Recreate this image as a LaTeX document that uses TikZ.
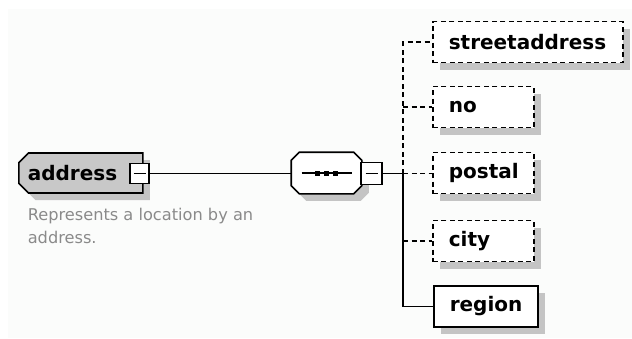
\documentclass[tikz,border=0pt]{standalone}
\usepackage{fontspec}
\setmainfont{DejaVu Sans}
\usetikzlibrary{shapes.misc,shadows}
\definecolor{bgtint}{HTML}{FBFCFB}
\definecolor{shadegray}{HTML}{C4C4C4}
\definecolor{bodygray}{HTML}{C8C8C8}
\definecolor{descgray}{HTML}{8A8A8A}

\begin{document}
\begin{tikzpicture}[x=1pt,y=-1pt,line width=1.6pt,
    elemfont/.style={font=\fontsize{20}{24}\selectfont\bfseries},
    boxshadow/.style={drop shadow={shadow xshift=7pt,shadow yshift=-7pt,fill=shadegray,opacity=1}},
    elembox/.style={draw,fill=white,elemfont,boxshadow,anchor=west,minimum height=41pt,inner xsep=16pt,inner ysep=0pt,align=left},
    optbox/.style={elembox,dash pattern=on 5pt off 3.5pt},
    dashedline/.style={dash pattern=on 5pt off 3.5pt},
    minusbox/.style={draw,fill=white,minimum width=19pt,minimum height=20pt,inner sep=0pt}]
    \useasboundingbox (0,0) rectangle (632,338);
    \fill[bgtint] (8,9) rectangle (632,338);

    \node[chamfered rectangle,chamfered rectangle corners={north west,south west},chamfered rectangle xsep=6pt,
          draw,fill=bodygray,boxshadow,elemfont,anchor=west,text width=106pt,inner xsep=3pt,inner ysep=0pt,minimum height=40pt]
          (address) at (18,173) {address};
    \node[minusbox] (addrminus) at (139.5,173.5) {};
    \draw[line width=1.2pt] ([xshift=-6pt]addrminus.center) -- ([xshift=6pt]addrminus.center);
    \node[anchor=north west,inner sep=0pt,align=left,text=descgray,font=\fontsize{16.2}{23}\selectfont]
          (addrdoc) at (27,207) {Represents a location by an\\address.};

    \node[minimum width=69pt,minimum height=40pt,inner sep=0pt] (seq) at (326.5,173) {};
    \filldraw[fill=white,boxshadow] ([xshift=8pt]seq.north west) -- ([xshift=-8pt]seq.north east)
        -- ([yshift=-8pt]seq.north east) -- ([yshift=8pt]seq.south east) -- ([xshift=-8pt]seq.south east)
        -- ([xshift=8pt]seq.south west) -- ([yshift=8pt]seq.south west) -- ([yshift=-8pt]seq.north west) -- cycle;
    \draw[line width=1.2pt] ([xshift=-25pt]seq.center) -- ([xshift=25pt]seq.center);
    \foreach \dx in {-9,0,9}
        \fill ([xshift=\dx pt]seq.center) ++(-2.5,-2.5) rectangle ++(5,5);
    \node[minusbox,minimum width=21pt,minimum height=22pt] (seqminus) at (371.5,173.5) {};
    \draw[line width=1.2pt] ([xshift=-6pt]seqminus.center) -- ([xshift=6pt]seqminus.center);

    \draw (addrminus.east) -- (seq.west |- addrminus.east);

    \node[optbox,text width=158pt] (street) at (432,42) {streetaddress};
    \node[optbox,text width=69pt] (no) at (432,107) {no};
    \node[optbox,text width=69pt] (postal) at (432,173) {postal};
    \node[optbox,text width=69pt] (city) at (432,241) {city};
    \node[elembox,text width=72pt] (region) at (433,306.5) {region};

    \coordinate (fork) at (403,173.5);
    \draw (seqminus.east) -- (fork);
    \draw[dashedline] (fork) |- (street.west);
    \draw[dashedline] (fork |- no.west) -- (no.west);
    \draw[dashedline] (fork) -- (postal.west |- fork);
    \draw[dashedline] (fork |- city.west) -- (city.west);
    \draw (fork) |- (region.west);
\end{tikzpicture}
\end{document}
